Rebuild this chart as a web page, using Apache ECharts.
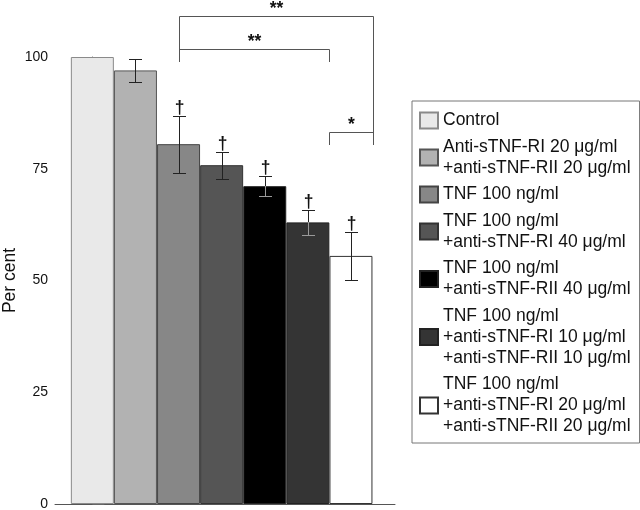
<!DOCTYPE html>
<html><head><meta charset="utf-8">
<script src="https://cdn.jsdelivr.net/npm/echarts@6/dist/echarts.min.js"></script>
<style>html,body{margin:0;padding:0;background:#fff}#c{width:640px;height:510px}</style>
</head><body><div id="c"></div>
<script>
// ---- data ----
const categories = [
  'Control',
  'Anti-sTNF-RI 20 μg/ml\n+anti-sTNF-RII 20 μg/ml',
  'TNF 100 ng/ml',
  'TNF 100 ng/ml\n+anti-sTNF-RI 40 μg/ml',
  'TNF 100 ng/ml\n+anti-sTNF-RII 40 μg/ml',
  'TNF 100 ng/ml\n+anti-sTNF-RI 10 μg/ml\n+anti-sTNF-RII 10 μg/ml',
  'TNF 100 ng/ml\n+anti-sTNF-RI 20 μg/ml\n+anti-sTNF-RII 20 μg/ml'
];
const values = [100, 97, 80.5, 75.8, 71.1, 63.0, 55.5];
const errors = [0, 2.5, 6.4, 3.0, 2.3, 2.8, 5.3];
const daggers = ['', '', '†', '†', '†', '†', '†'];
const yTicks = [0, 25, 50, 75, 100];
const bracketFrom = [2, 2, 5.5];
const bracketTo = [6.5, 5.5, 6.5];
const bracketLevel = [109.2, 101.7, 83.2];
const bracketLeftEnd = [98.9, 98.9, 80.3];
const bracketRightEnd = [80.3, 98.9, 80.3];
const bracketLabels = ['**', '**', '*'];

// ---- styles ----
const barColors = ['#e9e9e9', '#b2b2b2', '#878787', '#555555', '#000000', '#343434', '#ffffff'];
const barBorders = ['#8a8a8a', '#555', '#444', '#333', '#222', '#222', '#333'];
const FONT = '"Liberation Sans", Arial, Helvetica, sans-serif';

const barSeries = categories.map((name, i) => ({
  type: 'bar',
  name: name,
  data: [[i, values[i]]],
  barWidth: 43,
  barGap: '-100%',
  itemStyle: { color: barColors[i], borderColor: barBorders[i], borderWidth: 1 },
  z: 2
}));

const errData = values.map((v, i) => [i, v, errors[i]]);
const errSeries = {
  type: 'custom',
  name: 'err',
  data: errData,
  encode: { x: 0, y: 1 },
  clip: false,
  z: 5,
  renderItem: function (params, api) {
    const idx = params.dataIndex;
    const i = api.value(0), v = api.value(1), e = api.value(2);
    const children = [];
    const cap = 6.5;
    const outer = '#222';
    const dark = (idx === 4 || idx === 5);
    const inner = dark ? '#9a9a9a' : '#222';
    if (e > 0) {
      const top = api.coord([i, v + e]);
      const bot = api.coord([i, v - e]);
      const mid = api.coord([i, v]);
      const x = Math.round(top[0]) + 0.5;
      const ty = Math.round(top[1]) + 0.5, by = Math.round(bot[1]) + 0.5, my = Math.round(mid[1]);
      children.push({ type: 'line', shape: { x1: x, y1: ty, x2: x, y2: my }, style: { stroke: outer, lineWidth: 1 } });
      children.push({ type: 'line', shape: { x1: x, y1: my, x2: x, y2: by }, style: { stroke: inner, lineWidth: 1 } });
      children.push({ type: 'line', shape: { x1: x - cap, y1: ty, x2: x + cap, y2: ty }, style: { stroke: outer, lineWidth: 1 } });
      children.push({ type: 'line', shape: { x1: x - cap, y1: by, x2: x + cap, y2: by }, style: { stroke: inner, lineWidth: 1 } });
      if (daggers[idx]) {
        children.push({ type: 'text', x: x, y: ty + 0.5, style: { text: daggers[idx], fontSize: 17.5, fontWeight: 'bold', fontFamily: FONT, fill: '#111', align: 'center', verticalAlign: 'bottom' } });
      }
    }
    return { type: 'group', children: children };
  }
};

const brData = bracketFrom.map((f, k) => [f, bracketTo[k], bracketLevel[k], bracketLeftEnd[k], bracketRightEnd[k]]);
const bracketSeries = {
  type: 'custom',
  name: 'brackets',
  data: brData,
  encode: { x: [0, 1], y: [2, 3, 4] },
  clip: false,
  z: 6,
  renderItem: function (params, api) {
    const k = params.dataIndex;
    const a = api.coord([api.value(0), api.value(2)]);
    const b = api.coord([api.value(1), api.value(2)]);
    const la = api.coord([api.value(0), api.value(3)]);
    const rb = api.coord([api.value(1), api.value(4)]);
    const x1 = Math.round(a[0]) + 0.5, x2 = Math.round(b[0]) + 0.5, y = Math.round(a[1]) + 0.5;
    const st = { stroke: '#555', lineWidth: 1, fill: null };
    return {
      type: 'group',
      children: [
        { type: 'polyline', shape: { points: [[x1, Math.round(la[1])], [x1, y], [x2, y], [x2, Math.round(rb[1])]] }, style: st },
        { type: 'text', x: (x1 + x2) / 2, y: y + 1.5, style: { text: bracketLabels[k], fontSize: 17.5, fontWeight: 'bold', fontFamily: FONT, fill: '#111', align: 'center', verticalAlign: 'bottom' } }
      ]
    };
  }
};

const chart = echarts.init(document.getElementById('c'), null, { renderer: 'canvas' });
chart.setOption({
  animation: false,
  backgroundColor: '#fff',
  grid: { left: 55, right: 245, top: 57, bottom: 6, containLabel: false, outerBoundsMode: 'none' },
  xAxis: {
    type: 'value',
    min: -0.8666,
    max: 7.022,
    axisLine: { show: true, lineStyle: { color: '#555', width: 1 } },
    axisTick: { show: false },
    axisLabel: { show: false },
    splitLine: { show: false }
  },
  yAxis: {
    type: 'value',
    min: yTicks[0],
    max: yTicks[yTicks.length - 1],
    interval: 25,
    name: 'Per cent',
    nameLocation: 'middle',
    nameGap: 36,
    nameMoveOverlap: false,
    nameTextStyle: { fontSize: 17.5, fontFamily: FONT, color: '#111' },
    axisLine: { show: true, lineStyle: { color: '#666', width: 1 } },
    axisTick: { show: true, inside: true, length: 12, lineStyle: { color: '#666' } },
    axisLabel: { fontSize: 14, fontFamily: FONT, color: '#111', margin: 7 },
    splitLine: { show: false }
  },
  legend: {
    data: categories,
    orient: 'vertical',
    left: 412,
    top: 101,
    padding: [9, 9, 6, 7],
    borderColor: '#777',
    borderWidth: 1,
    itemWidth: 18,
    itemHeight: 16,
    itemGap: 5.5,
    icon: 'rect',
    selectedMode: false,
    textStyle: { fontSize: 17.5, lineHeight: 21, fontFamily: FONT, color: '#111' }
  },
  series: barSeries.concat([errSeries, bracketSeries])
});
</script>
</body></html>
